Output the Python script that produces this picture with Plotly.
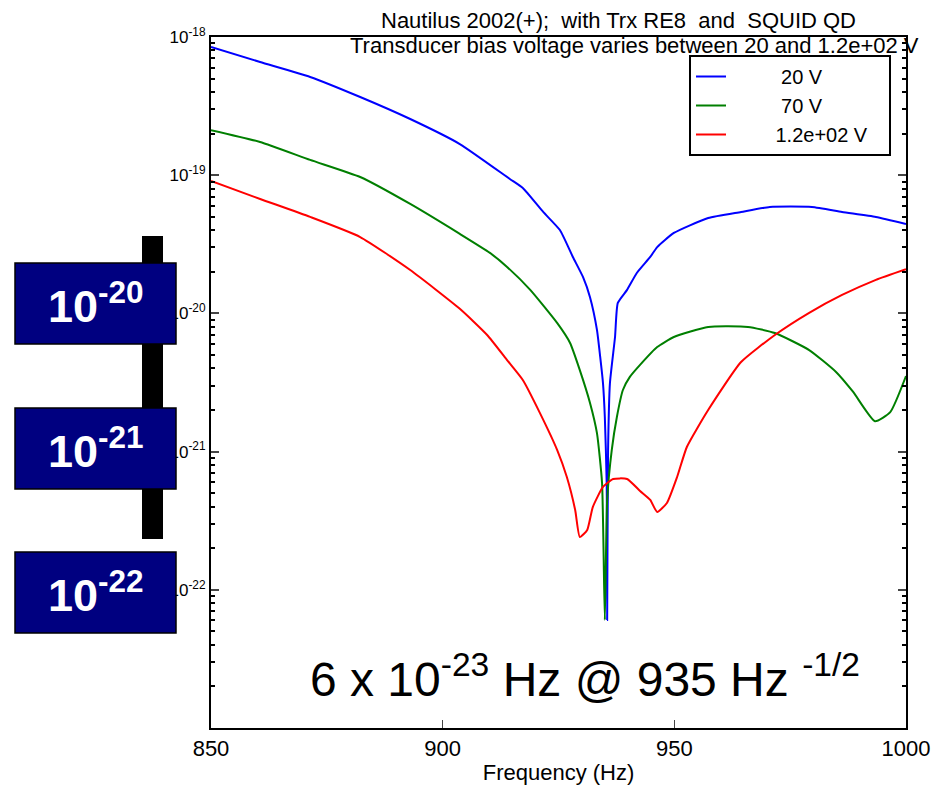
import plotly.graph_objects as go

# ---- data ----
freq_20V = [850, 860.6, 871.4, 882.2, 893.0, 903.7, 914.5, 917.3, 921.7, 925.3, 928.1, 930.3,
            931.8, 933.3, 934.0, 934.6, 935.0, 935.4, 935.5, 935.7, 936.1, 937.2, 937.8, 939.8,
            941.9, 944.8, 946.3, 949.9, 957.3, 964.4, 970.6, 979.7, 986.2, 993.5, 1000]
psd_20V = [8.47e-19, 6.59e-19, 5.14e-19, 3.68e-19, 2.55e-19, 1.68e-19, 9.39e-20, 8.08e-20, 5.42e-20,
           4.01e-20, 2.56e-20, 1.83e-20, 1.31e-20, 7.59e-21, 4.84e-21, 3.13e-21, 1.78e-21, 5.93e-22,
           6.05e-23, 1.03e-21, 3.13e-21, 6.75e-21, 1.19e-20, 1.48e-20, 1.96e-20, 2.56e-20, 3.02e-20,
           3.82e-20, 4.90e-20, 5.42e-20, 5.89e-20, 5.89e-20, 5.42e-20, 4.99e-20, 4.44e-20]

freq_70V = [850, 860.6, 871.4, 882.2, 893.0, 903.7, 910.2, 913.9, 918.9, 924.7, 927.5, 929.6,
            931.8, 933.3, 934.4, 935.0, 935.5, 936.5, 937.6, 938.9, 940.4, 942.6, 946.3, 949.9,
            957.3, 965.9, 971.7, 979.1, 984.9, 988.6, 993.3, 996.6, 1000]
psd_70V = [2.12e-19, 1.74e-19, 1.29e-19, 9.70e-20, 6.19e-20, 3.76e-20, 2.74e-20, 2.17e-20, 1.48e-20,
           8.53e-21, 6.11e-21, 3.89e-21, 2.25e-21, 1.36e-21, 5.93e-22, 6.05e-23, 4.47e-22, 1.03e-21,
           1.78e-21, 2.79e-21, 3.47e-21, 4.24e-21, 5.71e-21, 6.75e-21, 7.98e-21, 7.98e-21, 7.21e-21,
           5.43e-21, 3.77e-21, 2.70e-21, 1.66e-21, 1.93e-21, 3.52e-21]

freq_120V = [850, 860.6, 871.4, 882.2, 893.0, 903.7, 909.6, 913.9, 917.3, 921.0, 924.7, 926.8,
             928.6, 929.6, 931.2, 932.4, 934.6, 936.8, 939.8, 942.6, 944.8, 946.3, 948.4, 950.6,
             952.7, 957.3, 964.4, 971.7, 979.1, 986.2, 993.5, 1000]
psd_120V = [9.08e-20, 6.73e-20, 4.99e-20, 3.57e-20, 2.06e-20, 1.08e-20, 6.98e-21, 4.60e-21, 3.30e-21,
            1.90e-21, 1.03e-21, 6.55e-22, 3.78e-22, 2.41e-22, 2.71e-22, 3.97e-22, 5.55e-22, 6.34e-22,
            6.34e-22, 5.19e-22, 4.47e-22, 3.66e-22, 4.25e-22, 6.55e-22, 1.08e-21, 2.00e-21, 4.45e-21,
            6.98e-21, 1.01e-20, 1.36e-20, 1.75e-20, 2.09e-20]

NB = "\u00a0"
series_names = [NB * 9 + "20 V" + NB * 11, NB * 9 + "70 V" + NB * 11, NB * 8 + "1.2e+02 V" + NB * 3]
series_colors = ["#0000ff", "#007f00", "#ff0000"]

ytick_vals = [1e-18, 1e-19, 1e-20, 1e-21, 1e-22]
ytick_text = ["10<sup>-18</sup>", "10<sup>-19</sup>", "10<sup>-20</sup>", "10<sup>-21</sup>", "10<sup>-22</sup>"]
ydecades = [-23, -22, -21, -20, -19]
yminor_vals = [k * 10.0 ** d for d in ydecades for k in range(2, 10)]
xtick_vals = [850, 900, 950, 1000]
box_labels = ["10<sup>-20</sup>", "10<sup>-21</sup>", "10<sup>-22</sup>"]
title_line1 = "Nautilus 2002(+);  with Trx RE8  and  SQUID QD"
title_line2 = "Transducer bias voltage varies between 20 and 1.2e+02 V"
big_note = "6 x 10<sup>-23</sup> Hz @ 935 Hz <sup>-1/2</sup>"

FONT = "Liberation Sans, Arial, sans-serif"

fig = go.Figure()
for f, p, n, c in zip([freq_20V, freq_70V, freq_120V], [psd_20V, psd_70V, psd_120V],
                      series_names, series_colors):
    fig.add_trace(go.Scatter(x=f, y=p, mode="lines", name=n,
                             line=dict(color=c, width=2, shape="spline", smoothing=0.5)))

# page body offset compensation (screen coords -> figure coords)
OFF = 8
W, H = 945 - OFF, 787 - OFF
PL, PR, PT, PB = 211, 906, 37, 728          # plot area in screen pixels
ml, mr, mt, mb = PL - OFF, (W + OFF) - PR, PT - OFF, (H + OFF) - PB
pw, ph = PR - PL, PB - PT

def sx(x):
    return (x - PL) / pw
def sy(y):
    return (PB - y) / ph

shapes = [dict(type="rect", xref="paper", yref="paper", layer="above",
               x0=sx(142), x1=sx(163), y0=sy(539), y1=sy(236),
               fillcolor="black", line=dict(width=0))]
annotations = []
for top, lab in zip([263, 408, 552], box_labels):
    bottom = top + 81
    shapes.append(dict(type="rect", xref="paper", yref="paper", layer="above",
                       x0=sx(15), x1=sx(176), y0=sy(bottom), y1=sy(top),
                       fillcolor="#000080", line=dict(color="black", width=1.5)))
    annotations.append(dict(xref="paper", yref="paper", x=sx(96), y=sy(top + 40),
                            text="<b>" + lab + "</b>", showarrow=False,
                            font=dict(family=FONT, size=45, color="white"),
                            xanchor="center", yanchor="middle"))

annotations.append(dict(xref="paper", yref="paper", x=sx(585), y=sy(676), text=big_note,
                        showarrow=False, font=dict(family=FONT, size=48, color="black"),
                        xanchor="center", yanchor="middle"))
annotations.append(dict(xref="paper", yref="paper", x=sx(618), y=sy(21), text=title_line1,
                        showarrow=False, font=dict(family=FONT, size=22, color="black"),
                        xanchor="center", yanchor="middle"))
annotations.append(dict(xref="paper", yref="paper", x=sx(634), y=sy(46), text=title_line2,
                        showarrow=False, font=dict(family=FONT, size=22, color="black"),
                        xanchor="center", yanchor="middle"))

fig.update_layout(
    width=W, height=H,
    margin=dict(l=ml, r=mr, t=mt, b=mb, autoexpand=False),
    paper_bgcolor="white", plot_bgcolor="white",
    font=dict(family=FONT, size=16, color="black"),
    showlegend=True,
    legend=dict(x=sx(689), y=sy(55), xanchor="left", yanchor="top",
                bgcolor="white", bordercolor="black", borderwidth=2,
                font=dict(family=FONT, size=20), tracegroupgap=0),
    shapes=shapes, annotations=annotations,
    xaxis=dict(range=[850, 1000], tickvals=xtick_vals, ticks="inside", ticklen=8,
               showline=True, linecolor="black", linewidth=2, mirror=True,
               showgrid=False, zeroline=False,
               title=dict(text="Frequency (Hz)", font=dict(size=22), standoff=4),
               tickfont=dict(size=22)),
    yaxis=dict(type="log", range=[-23, -18], tickmode="array", tickvals=ytick_vals,
               ticktext=ytick_text, ticks="inside", ticklen=8, tickwidth=1.5,
               showline=True, linecolor="black", linewidth=2,
               mirror="ticks", showgrid=False, zeroline=False, tickfont=dict(size=17),
               minor=dict(tickmode="array", tickvals=yminor_vals, ticks="inside",
                          ticklen=4, tickwidth=1.5, tickcolor="black", showgrid=False)),
)

fig.write_html("out.html")
